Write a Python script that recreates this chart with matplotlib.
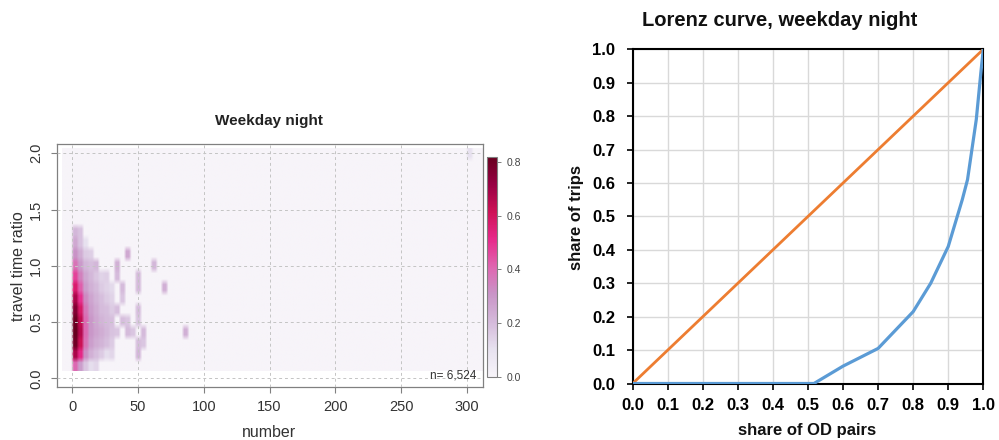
import numpy as np
import matplotlib
matplotlib.use("Agg")
import matplotlib.pyplot as plt

plt.rcParams['font.family'] = ['Liberation Sans', 'DejaVu Sans']

# ---------------- data: density cells (left panel) ----------------
core_x = [2, 6, 10, 14, 18, 22, 26, 30]
core_y = [0.1, 0.2, 0.3, 0.4, 0.5, 0.6, 0.7, 0.8, 0.9, 1.0, 1.1, 1.2, 1.3]
core_v = [
    [0.40, 0.68, 0.80, 0.82, 0.81, 0.76, 0.68, 0.57, 0.47, 0.38, 0.31, 0.25, 0.21],
    [0.28, 0.52, 0.62, 0.66, 0.64, 0.58, 0.50, 0.42, 0.35, 0.29, 0.24, 0.18, 0.18],
    [0.17, 0.32, 0.38, 0.40, 0.40, 0.37, 0.33, 0.28, 0.25, 0.21, 0.16, 0.10, 0.00],
    [0.11, 0.23, 0.28, 0.30, 0.30, 0.28, 0.26, 0.23, 0.21, 0.19, 0.15, 0.00, 0.00],
    [0.13, 0.19, 0.24, 0.26, 0.25, 0.24, 0.22, 0.20, 0.17, 0.13, 0.00, 0.00, 0.00],
    [0.00, 0.16, 0.22, 0.24, 0.22, 0.20, 0.19, 0.16, 0.14, 0.00, 0.00, 0.00, 0.00],
    [0.00, 0.11, 0.19, 0.21, 0.20, 0.19, 0.16, 0.14, 0.11, 0.00, 0.00, 0.00, 0.00],
    [0.00, 0.00, 0.16, 0.18, 0.19, 0.16, 0.14, 0.12, 0.00, 0.00, 0.00, 0.00, 0.00],
]
scat_x = [34, 34, 34, 34, 38, 38, 38, 42, 42, 42, 46, 50, 50, 50, 50, 50, 50,
          54, 54, 62, 70, 84, 300, 18, 26, 30]
scat_y = [1.0, 0.9, 0.6, 0.4, 0.8, 0.5, 0.7, 1.14, 0.4, 0.55, 0.45, 0.95, 0.8,
          0.65, 0.5, 0.3, 0.18, 0.45, 0.35, 1.02, 0.77, 0.38, 2.0, 1.05, 0.95, 0.25]
scat_v = [0.23, 0.20, 0.19, 0.17, 0.20, 0.19, 0.17, 0.25, 0.20, 0.17, 0.17, 0.20,
          0.20, 0.19, 0.17, 0.19, 0.21, 0.20, 0.17, 0.21, 0.23, 0.23, 0.10, 0.21,
          0.15, 0.13]
n_label = "n= 6,524"

# ---------------- data: Lorenz curve (right panel) ----------------
equal_x = [0.0, 1.0]
equal_y = [0.0, 1.0]
lorenz_x = [0.0, 0.517, 0.6, 0.7, 0.8, 0.85, 0.9, 0.94, 0.955, 0.98, 0.993, 1.0]
lorenz_y = [0.0, 0.0, 0.052, 0.105, 0.215, 0.30, 0.41, 0.55, 0.61, 0.79, 0.93, 1.0]

# ---------------- build density grid ----------------
x0, dx, nx = -8.0, 4.0, 80
y0, dy, ny = 0.065, 0.099, 20
grid = np.zeros((ny, nx))
for i, cx in enumerate(core_x):
    for j, cy in enumerate(core_y):
        ix = int((cx - x0) // dx); iy = int((cy - y0) // dy)
        grid[iy, ix] = max(grid[iy, ix], core_v[i][j])
for cx, cy, v in zip(scat_x, scat_y, scat_v):
    ix = int((cx - x0) // dx); iy = int((cy - y0) // dy)
    grid[iy, ix] = max(grid[iy, ix], v)
# cells with soft edges
fine = np.repeat(np.repeat(grid, 2, axis=0), 2, axis=1)

fig = plt.figure(figsize=(9.99, 4.4), dpi=100)

# ---------------- left panel ----------------
L, R, T, B = 56.5, 482.6, 144.3, 387.3
ax = fig.add_axes([L/999, 1-B/440, (R-L)/999, (B-T)/440])
im = ax.imshow(fine, origin='lower', extent=(x0, x0+dx*nx, y0, y0+dy*ny),
               aspect='auto', cmap='PuRd', vmin=0, vmax=0.82,
               interpolation='bilinear', zorder=1)
ax.set_xlim(-12, 312)
ax.set_ylim(-0.08, 2.08)
ax.set_xticks([0, 50, 100, 150, 200, 250, 300])
ax.set_yticks([0.0, 0.5, 1.0, 1.5, 2.0])
ax.set_yticklabels(["0.0", "0.5", "1.0", "1.5", "2.0"], rotation=90, va='center')
ax.grid(True, color='#c4c4c4', linestyle=(0, (3, 3)), linewidth=0.7, zorder=2)
ax.set_axisbelow(False)
for s in ax.spines.values():
    s.set_color('#808080'); s.set_linewidth(0.9)
ax.tick_params(axis='both', colors='#808080', labelcolor='#333333',
               labelsize=10.5, length=4.5, width=0.8, direction='out')
ax.tick_params(axis='x', pad=5)
ax.tick_params(axis='y', pad=5)
ax.text(0.985, 0.05, n_label, transform=ax.transAxes, ha='right', va='center',
        fontsize=8.5, color='#333333', zorder=3)
fig.text(269/999, 1-121/440, "Weekday night", ha='center', va='center',
         fontsize=11, fontweight='bold', color='#222222')
fig.text(269/999, 1-432/440, "number", ha='center', va='center',
         fontsize=11.5, color='#333333')
fig.text(19/999, 1-266/440, "travel time ratio", ha='center', va='center',
         fontsize=11.5, color='#333333', rotation=90)

cax = fig.add_axes([487.3/999, 1-376.7/440, 10/999, 220/440])
cb = fig.colorbar(im, cax=cax, ticks=[0.0, 0.2, 0.4, 0.6, 0.8])
cb.ax.set_yticklabels(["0.0", "0.2", "0.4", "0.6", "0.8"])
cb.outline.set_edgecolor('#808080'); cb.outline.set_linewidth(0.8)
cb.ax.tick_params(labelsize=7.5, colors='#808080', labelcolor='#444444',
                  length=3, width=0.7)

# ---------------- right panel ----------------
ax2 = fig.add_axes([632.7/999, 1-383.5/440, 350.6/999, 334.2/440])
ax2.plot(equal_x, equal_y, color='#ED7D31', linewidth=2.0, zorder=3,
         solid_capstyle='round')
ax2.plot(lorenz_x, lorenz_y, color='#5B9BD5', linewidth=2.3, zorder=3,
         solid_capstyle='round')
ax2.set_xlim(0, 1)
ax2.set_ylim(0, 1)
ticks = [round(0.1*i, 1) for i in range(11)]
ax2.set_xticks(ticks)
ax2.set_yticks(ticks)
ax2.set_xticklabels([f"{t:.1f}" for t in ticks])
ax2.set_yticklabels([f"{t:.1f}" for t in ticks])
ax2.grid(True, color='#d9d9d9', linewidth=1.0, zorder=0)
ax2.set_axisbelow(True)
for s in ax2.spines.values():
    s.set_color('black'); s.set_linewidth(1.5)
ax2.tick_params(axis='both', labelsize=12, length=4.5, width=1.2, direction='out',
                colors='black')
ax2.tick_params(axis='x', pad=6)
ax2.tick_params(axis='y', pad=8)
for lab in ax2.get_xticklabels() + ax2.get_yticklabels():
    lab.set_fontweight('bold')
fig.text(780/999, 1-20/440, "Lorenz curve, weekday night", ha='center',
         va='center', fontsize=14.5, fontweight='bold', color='#111111')
fig.text(807/999, 1-430/440, "share of OD pairs", ha='center', va='center',
         fontsize=12, fontweight='bold', color='#111111')
fig.text(577/999, 1-217/440, "share of trips", ha='center', va='center',
         fontsize=12, fontweight='bold', color='#111111', rotation=90)

fig.savefig("out.png", dpi=100)
